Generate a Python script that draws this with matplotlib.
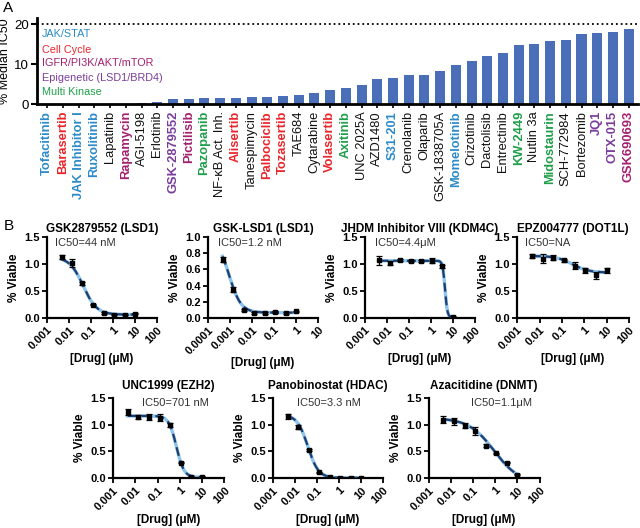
import numpy as np
import matplotlib
matplotlib.use("Agg")
from matplotlib import pyplot as plt

plt.rcParams['font.family'] = ['Liberation Sans', 'DejaVu Sans']

# ---- Panel A data ----
drugs = ["Tofacitinib", "Barasertib", "JAK Inhibitor I", "Ruxolitinib", "Lapatinib", "Rapamycin",
         "AGI-5198", "Erlotinib", "GSK-2879552", "Pictilisib", "Pazopanib", "NF-κB Act. Inh.",
         "Alisertib", "Tanespimycin", "Palbociclib", "Tozasertib", "TAE684", "Cytarabine",
         "Volasertib", "Axitinib", "UNC 2025A", "AZD1480", "S31-201", "Crenolanib", "Olaparib",
         "GSK-1838705A", "Momelotinib", "Crizotinib", "Dactolisib", "Entrectinib", "KW-2449",
         "Nutlin 3a", "Midostaurin", "SCH-772984", "Bortezomib", "JQ1", "OTX-015", "GSK690693"]
median_ic50_pct = [0, 0, 0, 0, 0, 0, 0.3, 0.4, 1.3, 1.35, 1.4, 1.5, 1.6, 1.7, 1.8, 2.1, 2.3, 2.8,
                   3.6, 4.0, 4.7, 6.2, 6.6, 7.2, 7.3, 8.3, 9.8, 10.8, 12.0, 12.8, 14.8, 15.1, 15.8,
                   16.0, 17.5, 17.9, 18.2, 18.9]
drug_class = ["jak", "cc", "jak", "jak", "", "igfr", "", "", "epi", "igfr", "mk", "", "cc", "",
              "cc", "cc", "", "", "cc", "mk", "", "", "jak", "", "", "", "jak", "", "", "", "mk",
              "", "mk", "", "", "epi", "epi", "igfr"]
class_names = ["jak", "cc", "igfr", "epi", "mk"]
class_labels = ["JAK/STAT", "Cell Cycle", "IGFR/PI3K/AKT/mTOR", "Epigenetic (LSD1/BRD4)", "Multi Kinase"]
class_colors = {"jak": "#2b8bc8", "cc": "#e8262b", "igfr": "#a3206e", "epi": "#7a3d9a",
                "mk": "#1f9e4a", "": "#111111"}

# ---- Panel B data ----
conc_10 = [0.0046, 0.0137, 0.041, 0.123, 0.37, 1.11, 3.33, 10]
conc_1 = [0.00046, 0.00137, 0.0041, 0.0123, 0.037, 0.111, 0.333, 1.0]

titles = ["GSK2879552 (LSD1)", "GSK-LSD1 (LSD1)", "JHDM Inhibitor VIII (KDM4C)", "EPZ004777 (DOT1L)",
          "UNC1999 (EZH2)", "Panobinostat (HDAC)", "Azacitidine (DNMT)"]
ic50_text = ["IC50=44 nM", "IC50=1.2 nM", "IC50=4.4μM", "IC50=NA",
             "IC50=701 nM", "IC50=3.3 nM", "IC50=1.1μM"]
concs = [conc_10, conc_1, conc_10, conc_10, conc_10, conc_10, conc_10]
viable = [
    [1.13, 1.02, 0.64, 0.24, 0.09, 0.06, 0.06, 0.08],
    [0.72, 0.35, 0.10, 0.06, 0.06, 0.07, 0.06, 0.08],
    [1.07, 1.02, 1.07, 1.05, 1.06, 1.06, 0.96, 0.02],
    [1.15, 1.10, 1.12, 1.07, 0.97, 0.88, 0.79, 0.88],
    [1.23, 1.14, 1.14, 1.13, 0.99, 0.29, 0.03, 0.03],
    [1.15, 0.96, 0.53, 0.11, 0.02, 0.01, 0.01, 0.01],
    [1.09, 1.06, 0.98, 0.88, 0.61, 0.47, 0.29, 0.07],
]
viable_err = [
    [0.03, 0.08, 0.03, 0.01, 0.01, 0.01, 0.01, 0.01],
    [0.03, 0.03, 0.01, 0.01, 0.01, 0.01, 0.01, 0.01],
    [0.08, 0.04, 0.02, 0.02, 0.02, 0.05, 0.03, 0.02],
    [0.03, 0.08, 0.04, 0.03, 0.06, 0.04, 0.06, 0.04],
    [0.05, 0.03, 0.05, 0.07, 0.03, 0.01, 0.01, 0.02],
    [0.05, 0.04, 0.02, 0.01, 0.01, 0.01, 0.01, 0.01],
    [0.06, 0.06, 0.05, 0.08, 0.02, 0.01, 0.01, 0.01],
]
# fitted 4PL parameters (top, bottom, ic50 in uM, hill)
fit_top = [1.13, 1.00, 1.06, 1.15, 1.16, 1.18, 1.12]
fit_bottom = [0.06, 0.065, 0.01, 0.84, 0.02, 0.01, -0.1]
fit_ic50 = [0.044, 0.0009, 4.4, 0.3, 0.701, 0.038, 0.9]
fit_hill = [1.4, 1.6, 8.0, 1.2, 2.55, 1.8, 0.75]

xtick_10 = [0.001, 0.01, 0.1, 1, 10, 100]
xticklab_10 = ["0.001", "0.01", "0.1", "1", "10", "100"]
xtick_1 = [0.0001, 0.001, 0.01, 0.1, 1, 10]
xticklab_1 = ["0.0001", "0.001", "0.01", "0.1", "1", "10"]

fig = plt.figure(figsize=(6.4, 5.28), dpi=100)

# ---------------- Panel A ----------------
axA = fig.add_axes([0.058, 0.803, 0.939, 0.162])
x = np.arange(len(drugs))
axA.bar(x, median_ic50_pct, width=0.64, color="#4a6eb8")
axA.axhline(20, color="black", linestyle=":", lw=1.3)
axA.set_xlim(-0.65, len(drugs) - 0.4)
axA.set_ylim(0, 21.5)
axA.set_yticks([0, 10, 20])
axA.tick_params(axis="y", labelsize=9.5, length=4, width=1.5, pad=2)
axA.set_ylabel("% Median IC50", fontsize=9, labelpad=2)
axA.set_xticks(x)
axA.set_xticklabels(drugs, rotation=90, fontsize=9.3)
axA.tick_params(axis="x", length=3, width=1.2, pad=2)
for lab, cls in zip(axA.get_xticklabels(), drug_class):
    lab.set_color(class_colors[cls])
    if cls:
        lab.set_fontweight("bold")
for sp in ["top", "right"]:
    axA.spines[sp].set_visible(False)
for sp in ["left", "bottom"]:
    axA.spines[sp].set_linewidth(2)
leg_y = [0.82, 0.635, 0.48, 0.305, 0.14]
for name, label, yy in zip(class_names, class_labels, leg_y):
    axA.text(0.008, yy, label, color=class_colors[name], fontsize=7.8,
             transform=axA.transAxes, va="center", ha="left")
fig.text(0.004, 0.999, "A", fontsize=11, va="top")
fig.text(0.006, 0.585, "B", fontsize=11, va="top")

# ---------------- Panel B ----------------
positions = [
    [0.0734, 0.398, 0.172, 0.153],
    [0.325, 0.398, 0.172, 0.153],
    [0.570, 0.398, 0.172, 0.153],
    [0.808, 0.398, 0.175, 0.153],
    [0.1766, 0.094, 0.174, 0.153],
    [0.4266, 0.094, 0.172, 0.153],
    [0.670, 0.094, 0.173, 0.153],
]
text_x = [0.07, 0.09, 0.09, 0.07, 0.26, 0.22, 0.38]

for i in range(7):
    ax = fig.add_axes(positions[i])
    c = np.array(concs[i])
    xs = np.logspace(np.log10(c[0]), np.log10(c[-1]), 300)
    ys = fit_bottom[i] + (fit_top[i] - fit_bottom[i]) / (1 + (xs / fit_ic50[i]) ** fit_hill[i])
    ax.plot(xs, ys, color="#8cc4ea", lw=2.4, zorder=2)
    ax.plot(xs, ys, color="#1d3f72", lw=1.6, dashes=(4, 2.2), zorder=3)
    ax.errorbar(c, viable[i], yerr=viable_err[i], fmt="s", ms=2.2, color="black",
                ecolor="black", elinewidth=0.9, capsize=2, capthick=0.9, zorder=4)
    ax.set_xscale("log")
    if i == 1:
        ax.set_xlim(0.0001, 10)
        ax.set_xticks(xtick_1)
        ax.set_xticklabels(xticklab_1)
        ax.set_ylim(0, 1.0)
        ax.set_yticks([0, 0.2, 0.4, 0.6, 0.8, 1.0])
        ax.set_yticklabels(["0.0", "0.2", "0.4", "0.6", "0.8", "1.0"])
    else:
        ax.set_xlim(0.001, 100)
        ax.set_xticks(xtick_10)
        ax.set_xticklabels(xticklab_10)
        ax.set_ylim(0, 1.5)
        ax.set_yticks([0, 0.5, 1.0, 1.5])
        ax.set_yticklabels(["0.0", "0.5", "1.0", "1.5"])
    ax.minorticks_off()
    for lab in ax.get_xticklabels():
        lab.set_rotation(45)
        lab.set_ha("right")
        lab.set_rotation_mode("anchor")
    ax.tick_params(labelsize=8, length=3.5, width=1.3, pad=1.5)
    for lab in ax.get_xticklabels() + ax.get_yticklabels():
        lab.set_fontweight("bold")
    for sp in ["top", "right"]:
        ax.spines[sp].set_visible(False)
    for sp in ["left", "bottom"]:
        ax.spines[sp].set_linewidth(1.6)
    ax.set_title(titles[i], fontsize=8.5, fontweight="bold", pad=4 if i < 4 else 6)
    ax.set_ylabel("% Viable", fontsize=8.5, fontweight="bold", labelpad=3)
    ax.set_xlabel("[Drug] (μM)", fontsize=8.5, fontweight="bold", labelpad=1)
    ax.text(text_x[i], 0.93, ic50_text[i], transform=ax.transAxes, fontsize=8,
            color="#333333", va="center", ha="left")

fig.savefig("out.png", dpi=100)
